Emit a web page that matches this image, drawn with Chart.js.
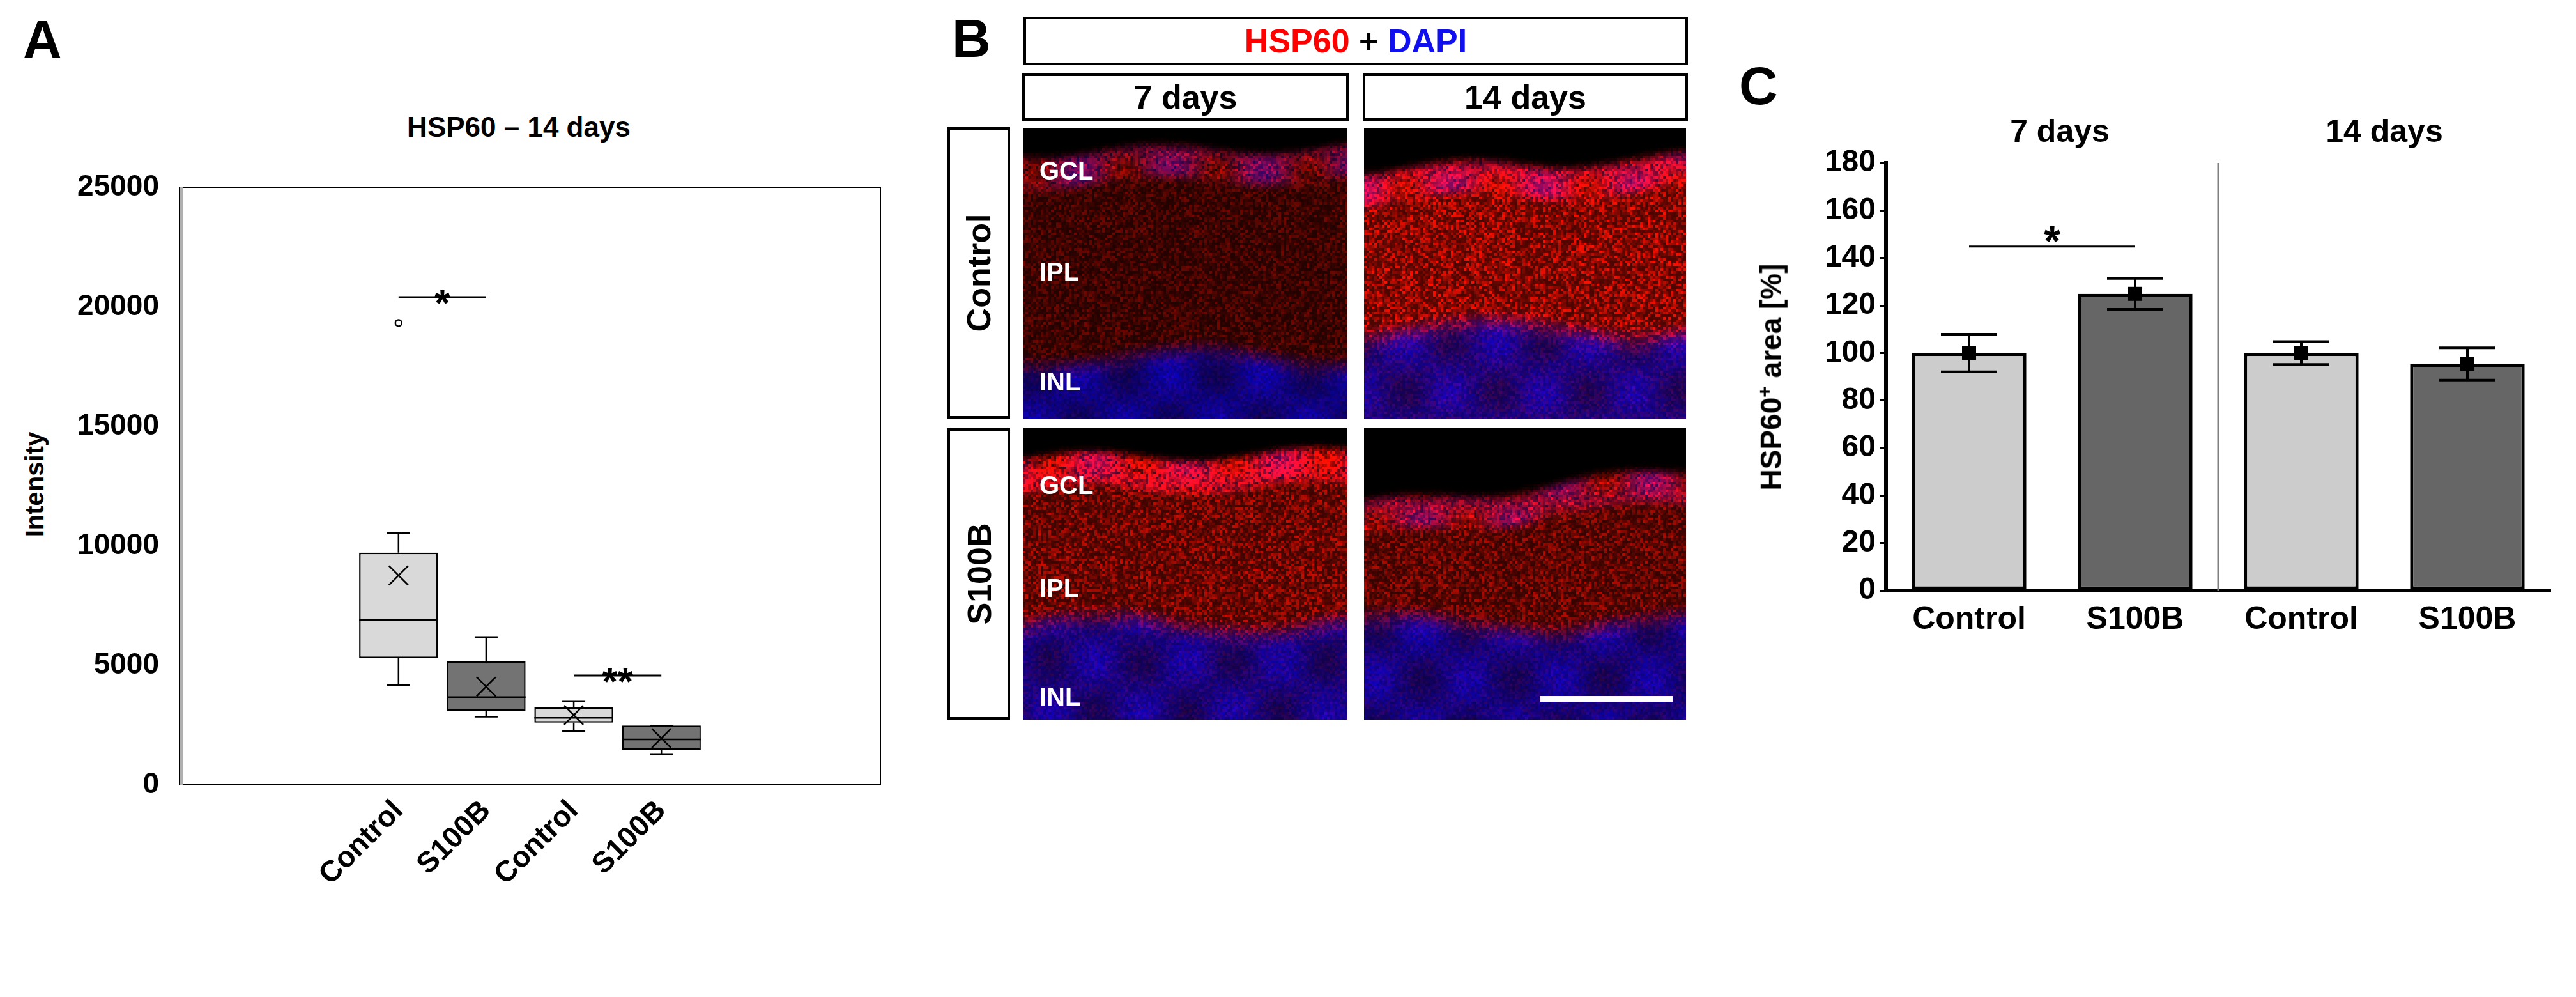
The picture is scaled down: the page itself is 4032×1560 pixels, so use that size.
<!DOCTYPE html>
<html><head><meta charset="utf-8">
<script src="https://cdn.jsdelivr.net/npm/chart.js@4"></script>
<style>
body{margin:0;width:4032px;height:1560px;background:#fff;position:relative;overflow:hidden;font-family:"Liberation Sans",Arial,sans-serif;font-weight:bold;}
.t{position:absolute;white-space:nowrap;color:#000;}
.box{position:absolute;border:4px solid #000;box-sizing:border-box;display:flex;align-items:center;justify-content:center;font-size:52px;}
canvas{position:absolute;}
</style></head><body>
<div class="t" style="left:36px;top:14px;font-size:84px">A</div>
<div class="t" style="left:812px;top:199px;font-size:44px;transform:translate(-50%,-50%)">HSP60 – 14 days</div>
<div class="t" style="left:54px;top:758px;font-size:40px;transform:translate(-50%,-50%) rotate(-90deg)">Intensity</div>
<div class="t" style="left:1490px;top:12px;font-size:84px">B</div>
<div class="box" style="left:1602px;top:26px;width:1040px;height:76px"><span style="color:#ff0000">HSP60</span>&nbsp;+&nbsp;<span style="color:#1010ee">DAPI</span></div>
<div class="box" style="left:1600px;top:115px;width:511px;height:74px">7 days</div>
<div class="box" style="left:2133px;top:115px;width:509px;height:74px">14 days</div>
<div class="box" style="left:1483px;top:199px;width:98px;height:456px"><span style="transform:rotate(-90deg)">Control</span></div>
<div class="box" style="left:1483px;top:670px;width:98px;height:456px"><span style="transform:rotate(-90deg)">S100B</span></div>
<canvas id="imgs" width="4032" height="1560" style="left:0;top:0"></canvas>
<div class="t" style="left:2722px;top:86px;font-size:84px">C</div>
<div class="t" style="left:2772px;top:590px;font-size:46px;transform:translate(-50%,-50%) rotate(-90deg)">HSP60<sup style="font-size:30px">+</sup> area [%]</div>
<div class="t" style="left:3224px;top:205px;font-size:50px;transform:translate(-50%,-50%)">7 days</div>
<div class="t" style="left:3732px;top:205px;font-size:50px;transform:translate(-50%,-50%)">14 days</div>
<canvas id="ca" width="1420" height="1560" style="left:0;top:0"></canvas>
<canvas id="cc" width="1392" height="1560" style="left:2640px;top:0"></canvas>
<script>
// ---- Panel A data (HSP60 intensity, 14 days) ----
const boxCategories = ['', '', 'Control', 'S100B', 'Control', 'S100B', '', ''];
const boxSlots = [2, 3, 4, 5];
const boxMin = [4180, 2850, 2240, 1290];
const boxQ1 = [5300, 3090, 2600, 1460];
const boxMedian = [6890, 3670, 2800, 1900];
const boxQ3 = [9710, 5160, 3240, 2480];
const boxMax = [10540, 6180, 3480, 2480];
const boxMean = [8760, 4110, 2920, 1950];
const boxOutliers = [[19320], [], [], []];
const boxColors = ['#d9d9d9', '#737373', '#d9d9d9', '#737373'];
const yTicksA = [0, 5000, 10000, 15000, 20000, 25000];
const sigA = [{from: 2, to: 3, y: 20400, label: '*'}, {from: 4, to: 5, y: 4570, label: '**'}];

// ---- Panel C data (HSP60+ area %) ----
const barCategories = ['Control', 'S100B', 'Control', 'S100B'];
const barMeans = [100, 124.9, 100, 95.4];
const barErrors = [7.9, 6.5, 4.8, 6.8];
const barColors = ['#cccccc', '#666666', '#cccccc', '#666666'];
const yTicksC = [0, 20, 40, 60, 80, 100, 120, 140, 160, 180];
const sigC = [{from: 0, to: 1, y: 144.8, label: '*'}];

const FONT = '"Liberation Sans", Arial, sans-serif';
Chart.defaults.font.family = FONT;
Chart.defaults.font.weight = 'bold';
Chart.defaults.color = '#000';

// Panel A
const boxData = boxCategories.map(() => null);
const boxBg = boxCategories.map(() => 'transparent');
boxSlots.forEach((s, i) => { boxData[s] = [boxQ1[i], boxQ3[i]]; boxBg[s] = boxColors[i]; });
const boxPlugin = {
  id: 'boxExtras',
  afterDatasetsDraw(chart) {
    const {ctx, chartArea: a, scales: {x, y}} = chart;
    ctx.save();
    ctx.strokeStyle = '#000'; ctx.lineWidth = 2.5;
    boxSlots.forEach((s, i) => {
      const cx = x.getPixelForValue(s);
      const meta = chart.getDatasetMeta(0).data[s];
      const hw = meta.width / 2;
      const cap = 18;
      ctx.beginPath();
      ctx.moveTo(cx, y.getPixelForValue(boxQ3[i])); ctx.lineTo(cx, y.getPixelForValue(boxMax[i]));
      ctx.moveTo(cx - cap, y.getPixelForValue(boxMax[i])); ctx.lineTo(cx + cap, y.getPixelForValue(boxMax[i]));
      ctx.moveTo(cx, y.getPixelForValue(boxQ1[i])); ctx.lineTo(cx, y.getPixelForValue(boxMin[i]));
      ctx.moveTo(cx - cap, y.getPixelForValue(boxMin[i])); ctx.lineTo(cx + cap, y.getPixelForValue(boxMin[i]));
      ctx.moveTo(cx - hw, y.getPixelForValue(boxMedian[i])); ctx.lineTo(cx + hw, y.getPixelForValue(boxMedian[i]));
      const my = y.getPixelForValue(boxMean[i]), m = 15;
      ctx.moveTo(cx - m, my - m); ctx.lineTo(cx + m, my + m);
      ctx.moveTo(cx + m, my - m); ctx.lineTo(cx - m, my + m);
      ctx.stroke();
      boxOutliers[i].forEach(v => { ctx.beginPath(); ctx.arc(cx, y.getPixelForValue(v), 5, 0, 2 * Math.PI); ctx.stroke(); });
    });
    sigA.forEach(sg => {
      const yy = y.getPixelForValue(sg.y);
      ctx.lineWidth = 3;
      ctx.beginPath(); ctx.moveTo(x.getPixelForValue(sg.from), yy); ctx.lineTo(x.getPixelForValue(sg.to), yy); ctx.stroke();
      ctx.font = 'bold 62px ' + FONT; ctx.fillStyle = '#000'; ctx.textAlign = 'center'; ctx.textBaseline = 'alphabetic';
      ctx.fillText(sg.label, (x.getPixelForValue(sg.from) + x.getPixelForValue(sg.to)) / 2, yy + 30);
    });
    ctx.strokeStyle = '#000'; ctx.lineWidth = 2; ctx.strokeRect(a.left, a.top, a.right - a.left, a.bottom - a.top);
    ctx.strokeStyle = '#b0b0b0'; ctx.lineWidth = 5; ctx.beginPath(); ctx.moveTo(a.left + 3, a.top); ctx.lineTo(a.left + 3, a.bottom); ctx.stroke();
    ctx.restore();
  }
};
new Chart(document.getElementById('ca'), {
  type: 'bar',
  data: {labels: boxCategories, datasets: [{data: boxData, backgroundColor: boxBg, borderColor: '#000', borderWidth: 2.5, borderSkipped: false, categoryPercentage: 1, barPercentage: 0.9}]},
  options: {
    responsive: false, devicePixelRatio: 1, animation: false,
    layout: {padding: {top: 293, right: 42, left: 0, bottom: 0}},
    plugins: {legend: {display: false}, tooltip: {enabled: false}},
    scales: {
      x: {grid: {display: false}, border: {display: false}, ticks: {font: {size: 46, weight: 'bold'}, maxRotation: 45, minRotation: 45, padding: 6, autoSkip: false},
          afterFit: s => { s.height = 332; }},
      y: {min: 0, max: 25000, grid: {display: false}, border: {display: false},
          afterBuildTicks: s => { s.ticks = yTicksA.map(v => ({value: v})); },
          ticks: {font: {size: 46, weight: 'bold'}, padding: 24, callback: v => String(v)},
          afterFit: s => { s.width = 281; }}
    }
  },
  plugins: [boxPlugin]
});

// Panel C
const errPlugin = {
  id: 'errExtras',
  afterDatasetsDraw(chart) {
    const {ctx, chartArea: a, scales: {x, y}} = chart;
    ctx.save();
    const dx = (x.getPixelForValue(1) + x.getPixelForValue(2)) / 2;
    ctx.strokeStyle = '#808080'; ctx.lineWidth = 3;
    ctx.beginPath(); ctx.moveTo(dx, a.top); ctx.lineTo(dx, a.bottom); ctx.stroke();
    ctx.strokeStyle = '#000'; ctx.fillStyle = '#000'; ctx.lineWidth = 4;
    barMeans.forEach((m, i) => {
      const cx = x.getPixelForValue(i), cap = 44;
      const t = y.getPixelForValue(m + barErrors[i]), b = y.getPixelForValue(m - barErrors[i]);
      ctx.beginPath();
      ctx.moveTo(cx, t); ctx.lineTo(cx, b);
      ctx.moveTo(cx - cap, t); ctx.lineTo(cx + cap, t);
      ctx.moveTo(cx - cap, b); ctx.lineTo(cx + cap, b);
      ctx.stroke();
      const my = y.getPixelForValue(m);
      ctx.fillRect(cx - 11, my - 11, 22, 22);
    });
    sigC.forEach(sg => {
      const yy = y.getPixelForValue(sg.y);
      ctx.lineWidth = 3;
      ctx.beginPath(); ctx.moveTo(x.getPixelForValue(sg.from), yy); ctx.lineTo(x.getPixelForValue(sg.to), yy); ctx.stroke();
      ctx.font = 'bold 66px ' + FONT; ctx.textAlign = 'center';
      ctx.fillText(sg.label, (x.getPixelForValue(sg.from) + x.getPixelForValue(sg.to)) / 2, yy + 14);
    });
    ctx.restore();
  }
};
new Chart(document.getElementById('cc'), {
  type: 'bar',
  data: {labels: barCategories, datasets: [{data: barMeans, backgroundColor: barColors, borderColor: '#000', borderWidth: 5, borderSkipped: false, categoryPercentage: 0.69, barPercentage: 1}]},
  options: {
    responsive: false, devicePixelRatio: 1, animation: false,
    layout: {padding: {top: 255, right: 40, left: 0, bottom: 0}},
    plugins: {legend: {display: false}, tooltip: {enabled: false}},
    scales: {
      x: {grid: {display: false}, border: {display: true, color: '#000', width: 6}, ticks: {font: {size: 50, weight: 'bold'}, padding: 8, maxRotation: 0},
          afterFit: s => { s.height = 636; }},
      y: {min: 0, max: 180, border: {display: true, color: '#000', width: 6},
          grid: {drawOnChartArea: false, drawTicks: true, tickLength: 10, color: '#000', lineWidth: 3},
          afterBuildTicks: s => { s.ticks = yTicksC.map(v => ({value: v})); },
          ticks: {font: {size: 48, weight: 'bold'}, padding: 6},
          afterFit: s => { s.width = 312; }}
    }
  },
  plugins: [errPlugin]
});

// Panel B: fluorescence micrographs (schematic rendering)
(function () {
  const c = document.getElementById('imgs').getContext('2d');
  function h(x, y) { const s = Math.sin(x * 12.9898 + y * 78.233) * 43758.5453; return s - Math.floor(s); }
  function sm(e0, e1, v) { const t = Math.min(1, Math.max(0, (v - e0) / (e1 - e0))); return t * t * (3 - 2 * t); }
  function panel(X, Y, W, H, p) {
    const B = 4;
    for (let j = 0; j < H; j += B) for (let i = 0; i < W; i += B) {
      const u = i / W, v = j / H;
      const top = p.top0 + (p.top1 - p.top0) * u + 0.02 * Math.sin(u * 9 + p.ph);
      const redEnd = p.redEnd + 0.03 * Math.sin(u * 7 + p.ph);
      const n = h(i + X, j + Y), n2 = h(j + Y * 3, i + 7);
      const blob = 0.5 + 0.5 * Math.sin(u * 22 + p.ph) * Math.sin(v * 18 + p.ph * 2);
      let r = sm(top - 0.03, top + 0.04, v) * (1 - 0.75 * sm(redEnd - 0.04, redEnd + 0.06, v));
      let gcl = sm(top - 0.02, top + 0.03, v) * (1 - sm(top + 0.08, top + 0.14, v));
      r = r * p.red * (0.3 + 0.7 * n * n) + gcl * p.gcl * n2;
      let b = sm(redEnd - 0.06, redEnd + 0.04, v) * (0.45 + 0.45 * blob) * (0.7 + 0.3 * n2);
      b += gcl * 0.45 * blob * p.gclBlue;
      const R = Math.min(255, Math.round(255 * r)), Bl = Math.min(255, Math.round(215 * b));
      c.fillStyle = 'rgb(' + R + ',' + Math.round(R * 0.06) + ',' + Bl + ')';
      c.fillRect(X + i, Y + j, B, B);
    }
  }
  panel(1601, 200, 505, 453, {top0: 0.08, top1: 0.06, redEnd: 0.80, red: 0.45, gcl: 0.4, gclBlue: 1, ph: 1});
  panel(2135, 200, 503, 453, {top0: 0.14, top1: 0.10, redEnd: 0.70, red: 1.0, gcl: 0.5, gclBlue: 1, ph: 2});
  panel(1601, 670, 505, 454, {top0: 0.10, top1: 0.08, redEnd: 0.68, red: 0.8, gcl: 0.9, gclBlue: 0.8, ph: 3});
  panel(2135, 670, 503, 454, {top0: 0.26, top1: 0.14, redEnd: 0.68, red: 0.7, gcl: 0.4, gclBlue: 1, ph: 4});
  c.fillStyle = '#fff'; c.font = 'bold 40px ' + FONT; c.textBaseline = 'middle';
  [[270, 'GCL'], [428, 'IPL'], [600, 'INL'], [762, 'GCL'], [923, 'IPL'], [1093, 'INL']].forEach(([yy, s]) => c.fillText(s, 1627, yy));
  c.fillRect(2411, 1089, 207, 9);
})();
</script>
</body></html>
